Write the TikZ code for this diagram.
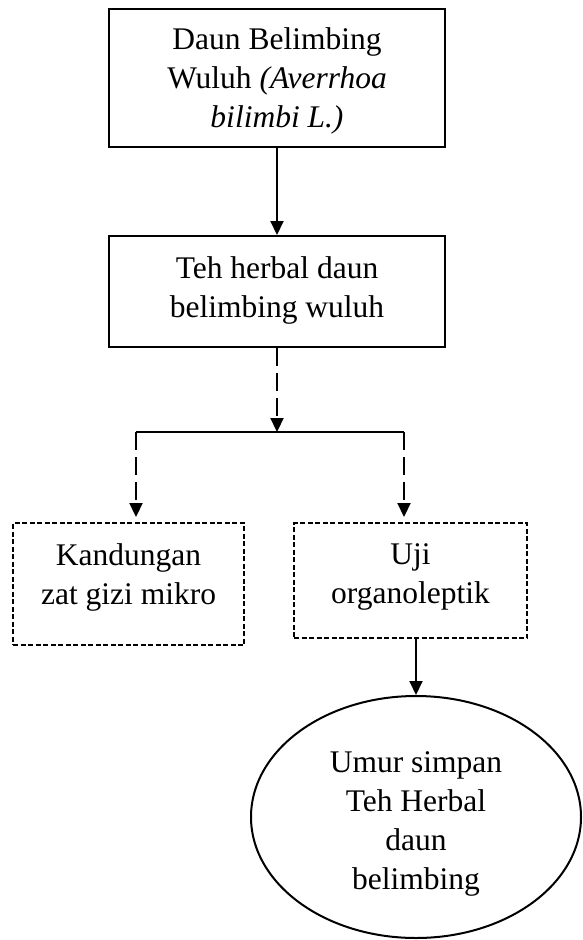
\documentclass[tikz,border=0pt]{standalone}
\usepackage{fontspec}
\setmainfont{Liberation Serif}
\usetikzlibrary{arrows.meta,shapes.geometric}
\begin{document}
\begin{tikzpicture}[x=1pt,y=-1pt,
  solidbox/.style={draw,line width=2pt,rectangle,inner sep=0pt},
  dotbox/.style={draw,line width=2pt,rectangle,inner sep=0pt,dash pattern=on 5pt off 2.5pt},
  ovalbox/.style={draw,line width=2pt,ellipse,inner sep=0pt},
  lbl/.style={align=center,inner sep=0pt,font=\fontsize{31.5}{39}\selectfont},
  tip/.style={-{Triangle[length=14pt,width=13pt]}},
  solidarrow/.style={tip,line width=2pt},
  dasharrow/.style={tip,line width=2.2pt,dash pattern=on 18pt off 7pt},
]
\useasboundingbox (0,0) rectangle (583,940);
\fill[white] (0,0) rectangle (583,940);

\node[solidbox,minimum width=336pt,minimum height=138pt] (top) at (277,78) {};
\node[lbl] (toptext) at (277,81) {Daun Belimbing\\Wuluh \textit{(Averrhoa}\\\textit{bilimbi L.)}};

\node[solidbox,minimum width=336pt,minimum height=111pt] (mid) at (277,291.5) {};
\node[lbl] (midtext) at (277,290) {Teh herbal daun\\belimbing wuluh};

\node[dotbox,minimum width=231pt,minimum height=122pt] (left) at (128.5,584) {};
\node[lbl] (lefttext) at (128.5,577) {Kandungan\\zat gizi mikro};

\node[dotbox,minimum width=233pt,minimum height=115pt] (right) at (410.5,580.5) {};
\node[lbl] (righttext) at (410.5,577) {Uji\\organoleptik};

\node[ovalbox,minimum width=330pt,minimum height=242pt] (oval) at (416,817) {};
\node[lbl] (ovaltext) at (416,824) {Umur simpan\\Teh Herbal\\daun\\belimbing};

\coordinate (split) at (277,432);
\coordinate (hl) at (136,432);
\coordinate (hr) at (404,432);

\draw[solidarrow] (top.south) -- (mid.north);
\draw[dasharrow] (mid.south) -- (split);
\draw[line width=1.3pt] (hl) -- (hr);
\draw[dasharrow,shorten >=5pt] (hl) -- (hl |- left.north);
\draw[dasharrow,shorten >=5pt] (hr) -- (hr |- right.north);
\draw[solidarrow] (oval.north |- right.south) -- (oval.north);
\end{tikzpicture}
\end{document}
